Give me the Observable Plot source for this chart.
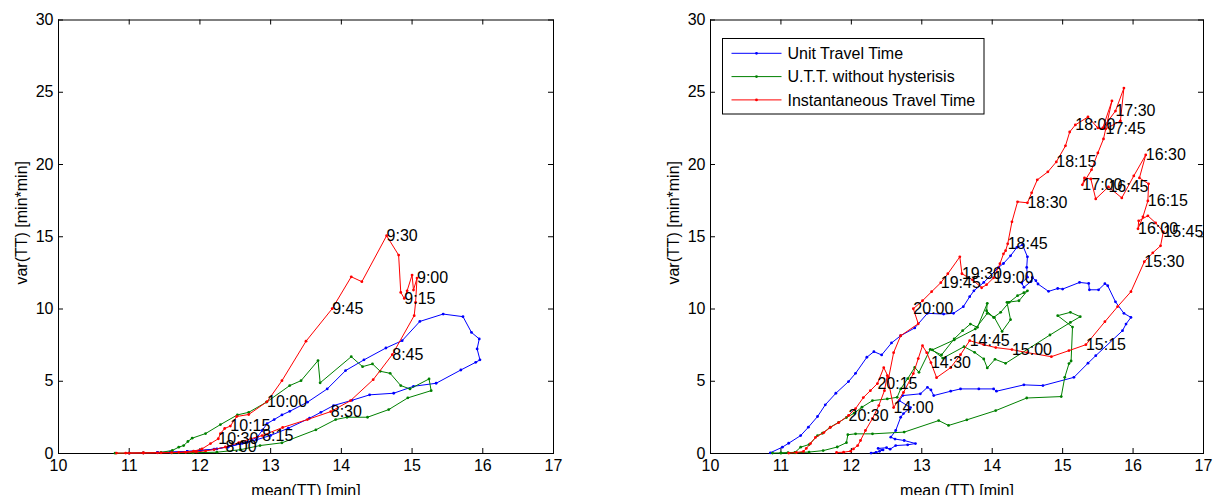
<!DOCTYPE html>
<html><head><meta charset="utf-8">
<script src="https://cdn.jsdelivr.net/npm/d3@7"></script>
<script src="https://cdn.jsdelivr.net/npm/@observablehq/plot@0.6"></script>
<style>
body{margin:0;background:#fff;font-family:"Liberation Sans",Arial,Helvetica,sans-serif;}
#wrap{position:relative;width:1220px;height:495px;display:flex;overflow:hidden;}
.panel{position:relative;width:610px;height:495px;}
.legend{position:absolute;}
</style></head><body>
<div id="wrap"><div class="panel" id="left"></div><div class="panel" id="right"></div></div>
<script>
// ---------- data ----------
const xTicks = [10, 11, 12, 13, 14, 15, 16, 17];
const yTicks = [0, 5, 10, 15, 20, 25, 30];
const seriesNames = ["Unit Travel Time", "U.T.T. without hysterisis", "Instantaneous Travel Time"];
const seriesColors = ["#0000ff", "#008000", "#ff0000"];
const xLabels = ["mean(TT) [min]", "mean (TT) [min]"];
const yLabel = "var(TT) [min*min]";

// left panel (morning)
const blueLeft = [[11.0,0.02],[11.2,0.04],[11.4,0.07],[11.6,0.1],[11.82,0.14],[12.0,0.2],[12.2,0.3],[12.4,0.45],[12.6,0.7],[12.8,0.95],[13.0,1.25],[13.25,1.75],[13.55,2.44],[13.71,2.85],[13.89,3.32],[14.15,3.68],[14.40,4.06],[14.74,4.17],[15.02,4.65],[15.34,4.86],[15.69,5.78],[15.90,6.31],[15.96,6.48],[15.92,7.24],[15.95,7.93],[15.84,8.38],[15.72,9.47],[15.44,9.65],[15.11,9.14],[14.86,7.81],[14.63,7.30],[14.32,6.48],[14.06,5.74],[13.80,4.47],[13.52,3.55],[13.27,2.92],[13.16,2.67],[13.05,2.35],[12.95,2.07],[12.88,1.59],[12.81,1.13],[12.67,0.78],[12.57,0.67],[12.40,0.48],[12.24,0.32],[12.01,0.21],[11.82,0.14],[11.58,0.09],[11.40,0.07]];
const greenLeft = [[10.80,0.02],[11.0,0.03],[11.2,0.04],[11.45,0.08],[11.61,0.21],[11.70,0.44],[11.77,0.55],[11.83,0.83],[11.89,1.06],[12.08,1.38],[12.29,2.0],[12.53,2.67],[12.69,2.85],[12.94,3.55],[13.27,4.70],[13.43,5.04],[13.67,6.43],[13.70,4.89],[14.14,6.70],[14.30,6.01],[14.44,6.20],[14.55,5.69],[14.69,5.55],[14.84,4.70],[14.97,4.47],[15.24,5.16],[15.27,4.35],[14.94,3.85],[14.67,3.04],[14.37,2.51],[14.08,2.51],[13.92,2.35],[13.64,1.64],[13.16,0.74],[12.85,0.55],[12.57,0.26],[12.24,0.09],[11.9,0.05],[11.6,0.04]];
const redLeft = [[10.82,0.03],[11.0,0.03],[11.2,0.04],[11.4,0.05],[11.6,0.06],[11.8,0.08],[11.95,0.12],[12.08,0.18],[12.2,0.27],[12.36,0.45,"8:00"],[12.55,0.75],[12.72,1.02],[12.88,1.24,"8:15"],[13.17,1.80],[13.52,2.35],[13.85,2.90,"8:30"],[14.13,3.66],[14.45,5.11],[14.72,6.84,"8:45"],[15.03,9.54],[15.05,10.46],[15.07,12.14,"9:00"],[15.02,11.31],[15.00,12.35],[14.93,11.26],[14.89,10.73,"9:15"],[14.84,11.15],[14.81,13.73],[14.64,15.07,"9:30"],[14.29,11.89],[14.14,12.23],[13.87,10.02,"9:45"],[13.50,7.77],[13.16,5.04],[12.95,3.59,"10:00"],[12.69,2.70],[12.52,2.56],[12.43,1.90,"10:15"],[12.35,1.73],[12.29,1.38],[12.26,1.02,"10:30"],[12.15,0.69],[12.03,0.32],[11.91,0.16],[11.70,0.08],[11.45,0.05],[11.20,0.04],[10.95,0.03]];

// right panel (afternoon)
const blueRight = [[12.28,0.03],[12.35,0.08],[12.40,0.15],[12.45,0.25],[12.38,0.35],[12.50,0.40],[12.55,0.30],[12.63,0.55],[12.80,0.60],[12.91,0.69],[12.75,0.90],[12.62,1.0],[12.56,1.13],[12.63,1.59],[12.70,2.51],[12.74,2.76],[12.84,3.18],[12.68,3.66],[12.73,4.01],[12.98,4.13],[13.08,4.58],[13.13,4.40],[13.17,4.01],[13.41,4.31],[13.55,4.47],[13.81,4.47],[14.02,4.47],[14.06,4.31],[14.45,4.75],[14.72,4.70],[15.16,5.27],[15.36,6.25],[15.47,6.77],[15.85,8.50],[15.90,8.96],[15.97,9.42],[15.87,9.70],[15.75,10.50],[15.64,11.61],[15.60,11.75],[15.51,11.33],[15.38,11.33],[15.37,11.77],[15.24,11.84],[15.00,11.38],[14.93,11.42],[14.80,11.22],[14.65,11.73],[14.62,11.96],[14.57,12.18],[14.55,11.9],[14.45,11.5],[14.42,11.8],[14.50,12.2],[14.49,12.88],[14.50,13.61],[14.43,14.44],[14.35,14.26],[14.26,13.68],[14.16,13.15],[14.09,12.88],[13.88,11.84],[13.74,11.26],[13.68,10.85],[13.59,10.16],[13.45,9.70],[13.31,9.65],[13.08,9.70],[12.90,8.69],[12.70,8.15],[12.57,7.65],[12.43,6.82],[12.32,7.05],[12.22,6.66],[12.06,5.55],[11.96,4.98],[11.78,4.17],[11.63,3.37],[11.52,2.56],[11.39,1.82],[11.28,1.24],[11.11,0.71],[11.02,0.44],[10.85,0.05]];
const greenRight = [[10.88,0.03],[11.0,0.04],[11.1,0.06],[11.2,0.08],[11.28,0.44],[11.40,0.62],[11.52,1.24],[11.59,1.40],[11.70,1.82],[11.82,2.16],[11.93,2.49],[12.04,2.79],[12.15,3.20],[12.30,3.66],[12.51,3.78],[12.65,3.89],[12.70,4.47],[12.80,5.18],[12.90,5.96],[12.96,5.62],[13.12,7.21],[13.28,6.82],[13.46,7.93],[13.58,8.50],[13.69,8.96],[13.79,8.73],[13.93,10.39],[13.92,9.88],[14.02,9.42],[14.12,9.77],[14.24,10.46],[14.36,10.92],[14.45,11.13],[14.50,11.26],[14.38,10.57],[14.21,10.46],[14.26,9.26],[14.14,8.45],[14.03,9.42],[13.93,9.7],[13.76,8.62],[13.46,7.86],[13.15,7.17],[13.30,6.6],[13.60,7.39],[13.75,7.0],[13.88,6.54],[13.93,5.92],[14.04,6.52],[14.19,6.24],[14.82,8.20],[15.11,9.07],[15.25,9.47],[15.11,9.77],[14.93,9.54],[15.14,8.75],[15.12,6.40],[15.09,6.22],[15.03,5.27],[14.98,3.94],[14.49,3.84],[14.05,2.97],[13.64,2.33],[13.38,1.94],[13.24,2.28],[12.75,1.48],[12.30,1.36],[12.06,1.36],[11.95,1.30],[11.93,0.75],[11.80,0.45],[11.60,0.20],[11.40,0.10],[11.20,0.05],[11.00,0.03]];
const redRight = [[11.79,0.07],[11.89,0.09],[11.99,0.16],[12.03,0.32],[12.09,0.55],[12.13,0.90],[12.20,1.59],[12.30,2.42],[12.39,3.32],[12.47,4.35],[12.51,5.39],[12.60,3.18,"14:00"],[12.74,4.22],[12.88,5.53],[12.95,6.57],[13.01,7.46],[13.07,6.98],[13.13,6.29,"14:30"],[13.21,5.25],[13.41,5.94],[13.55,6.84],[13.68,7.81,"14:45"],[13.88,7.53],[14.05,7.33],[14.28,7.19,"15:00"],[14.50,6.98],[14.84,6.70],[15.09,7.12],[15.33,7.53,"15:15"],[15.60,9.12],[15.78,10.16],[15.97,11.20],[16.16,13.27,"15:30"],[16.28,13.89],[16.39,14.37],[16.43,15.34,"15:45"],[16.32,15.96],[16.21,16.45],[16.08,16.10],[16.07,15.55,"16:00"],[16.14,16.38],[16.21,17.48,"16:15"],[16.22,18.66],[16.09,19.07],[16.18,20.66,"16:30"],[16.01,19.21],[15.84,17.69],[15.65,18.45,"16:45"],[15.47,17.62],[15.40,19.00],[15.31,19.07],[15.28,18.59,"17:00"],[15.41,19.63],[15.50,20.80],[15.58,21.77],[15.70,24.40],[15.57,22.53],[15.75,23.70,"17:30"],[15.87,25.29],[15.82,23.01],[15.61,22.46,"17:45"],[15.50,22.53],[15.36,23.29],[15.18,22.74,"18:00"],[15.10,22.25],[15.04,21.29],[14.91,20.18,"18:15"],[14.79,19.49],[14.64,18.94],[14.56,18.04],[14.50,17.35,"18:30"],[14.36,17.42],[14.28,16.03],[14.22,14.51,"18:45"],[14.19,14.03],[14.16,13.82],[14.11,13.13],[14.02,12.16,"19:00"],[13.92,11.68],[13.85,11.47],[13.72,12.02],[13.57,12.44,"19:30"],[13.54,13.61],[13.37,12.44],[13.27,11.82,"19:45"],[13.14,11.20],[13.01,10.57],[12.88,10.02,"20:00"],[12.95,8.98],[12.70,8.15],[12.60,6.98],[12.53,5.25],[12.46,5.94],[12.37,4.84,"20:15"],[12.27,4.35],[12.17,3.87],[12.06,3.11],[11.96,2.63,"20:30"],[11.82,2.14],[11.70,1.80],[11.61,1.45],[11.49,1.11],[11.42,0.69],[11.36,0.35],[11.32,0.14],[11.22,0.07],[11.11,0.03]];

// ---------- drawing ----------
const W = 610, H = 495, MT = 19.5, MB = 42;
const FONT = '"Liberation Sans", Arial, Helvetica, sans-serif';

function panel({blue, green, red, marginLeft, marginRight, xLabel}) {
  const pw = W - marginLeft - marginRight, ph = H - MT - MB;
  const tx = 5 * (xTicks[xTicks.length-1] - xTicks[0]) / pw;   // 5px tick length in x units
  const ty = 5 * (yTicks[yTicks.length-1] - yTicks[0]) / ph;   // 5px tick length in y units
  const x0 = xTicks[0], x1 = xTicks[xTicks.length-1], y0 = yTicks[0], y1 = yTicks[yTicks.length-1];
  const marks = [
    Plot.frame({stroke: "black", strokeWidth: 1}),
    Plot.ruleX(xTicks, {x: d => d, y1: y0, y2: y0 + ty, stroke: "black"}),
    Plot.ruleX(xTicks, {x: d => d, y1: y1, y2: y1 - ty, stroke: "black"}),
    Plot.ruleY(yTicks, {y: d => d, x1: x0, x2: x0 + tx, stroke: "black"}),
    Plot.ruleY(yTicks, {y: d => d, x1: x1, x2: x1 - tx, stroke: "black"}),
    Plot.axisX(xTicks, {tickSize: 0, tickPadding: 6, fontSize: 16, label: null, tickFormat: d => String(d)}),
    Plot.axisY(yTicks, {tickSize: 0, tickPadding: 5, fontSize: 16, label: null, tickFormat: d => String(d)}),
    Plot.text([xLabel], {frameAnchor: "bottom", dy: 37, textAnchor: "middle", lineAnchor: "middle", fontSize: 16, fill: "black"}),
    Plot.text([yLabel], {frameAnchor: "left", dx: -37, dy: -14, rotate: -90, textAnchor: "middle", lineAnchor: "middle", fontSize: 16, fill: "black"})
  ];
  [[blue, seriesColors[0]], [green, seriesColors[1]], [red, seriesColors[2]]].forEach(([data, c]) => {
    marks.push(Plot.line(data, {x: d => d[0], y: d => d[1], stroke: c, strokeWidth: 1}));
    marks.push(Plot.dot(data, {x: d => d[0], y: d => d[1], r: 1.4, fill: c, stroke: "none"}));
  });
  marks.push(Plot.text(red.filter(d => d[2]), {x: d => d[0], y: d => d[1], text: d => d[2], textAnchor: "start", lineAnchor: "middle", fontSize: 16, fill: "black"}));
  return Plot.plot({
    width: W, height: H, marginLeft, marginRight, marginTop: MT, marginBottom: MB,
    x: {domain: [x0, x1]}, y: {domain: [y0, y1]},
    style: {fontFamily: FONT, fontSize: "16px", color: "black", background: "white", overflow: "visible"},
    marks
  });
}

document.getElementById("left").appendChild(panel({blue: blueLeft, green: greenLeft, red: redLeft, marginLeft: 58, marginRight: 57, xLabel: xLabels[0]}));
document.getElementById("right").appendChild(panel({blue: blueRight, green: greenRight, red: redRight, marginLeft: 100, marginRight: 17, xLabel: xLabels[1]}));

// legend inside the right panel
const lg = d3.select("#right").append("svg").attr("class", "legend")
  .attr("width", 263).attr("height", 77)
  .style("left", "112px").style("top", "38px");
lg.append("rect").attr("x", 0.5).attr("y", 0.5).attr("width", 261.5).attr("height", 75.5)
  .attr("fill", "white").attr("stroke", "black");
seriesNames.forEach((name, i) => {
  const cy = 15.3 + i * 23.3;
  lg.append("line").attr("x1", 9.5).attr("x2", 59.5).attr("y1", cy).attr("y2", cy).attr("stroke", seriesColors[i]);
  lg.append("circle").attr("cx", 34.5).attr("cy", cy).attr("r", 1.4).attr("fill", seriesColors[i]);
  lg.append("text").attr("x", 65.5).attr("y", cy).attr("dy", "0.35em")
    .style("font-family", FONT).style("font-size", "16px").attr("fill", "black").text(name);
});
</script>
</body></html>
